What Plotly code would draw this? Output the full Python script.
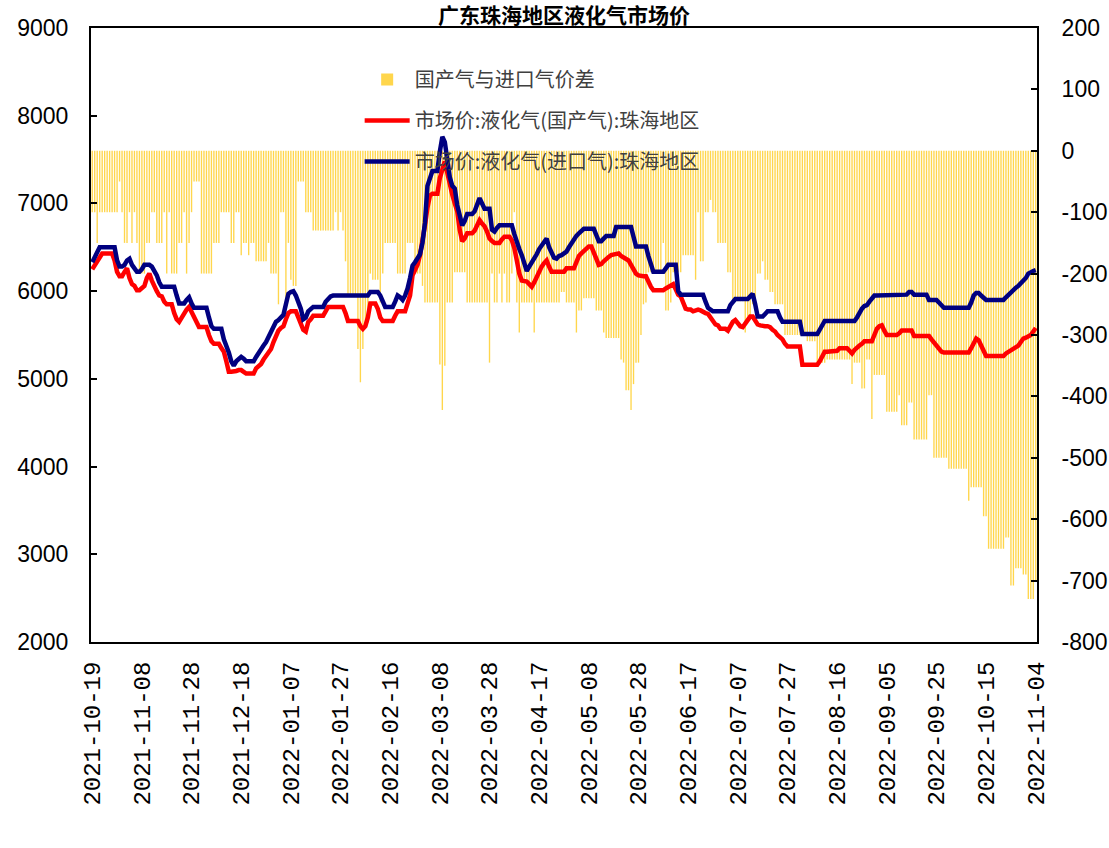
import pandas as pd
import plotly.graph_objects as go

# ---------------- categories ----------------
dates = [d.strftime('%Y-%m-%d') for d in pd.date_range('2021-10-19', '2022-11-04')
         if d.strftime('%Y-%m-%d') != '2022-05-01']
tick_labels = dates[::20]
left_ticks = [2000, 3000, 4000, 5000, 6000, 7000, 8000, 9000]
right_ticks = [-800, -700, -600, -500, -400, -300, -200, -100, 0, 100, 200]
right_tick_text = ['-800', '-700', '-600', '-500', '-400', '-300', '-200', '-100', '0', '100', '200']

# ---------------- series ----------------
price_imported = [
    6330, 6390, 6450, 6500, 6500, 6500, 6500, 6500, 6500, 6500,
    6350, 6280, 6280, 6300, 6350, 6370, 6300, 6250, 6220, 6220,
    6250, 6300, 6300, 6300, 6280, 6230, 6180, 6100, 6050, 6050,
    6050, 6050, 6050, 6050, 5950, 5860, 5860, 5860, 5900, 5930,
    5860, 5810, 5810, 5810, 5810, 5810, 5810, 5700, 5600, 5570,
    5570, 5570, 5570, 5450, 5380, 5300, 5200, 5150, 5200, 5230,
    5250, 5230, 5200, 5200, 5200, 5200, 5250, 5300, 5340, 5380,
    5420, 5480, 5540, 5590, 5650, 5670, 5700, 5730, 5850, 5970,
    5990, 6000, 5950, 5880, 5800, 5680, 5700, 5770, 5790, 5820,
    5820, 5820, 5820, 5820, 5880, 5910, 5940, 5950, 5950, 5950,
    5950, 5950, 5950, 5950, 5950, 5950, 5950, 5950, 5950, 5950,
    5950, 5950, 5990, 5990, 5990, 5990, 5950, 5870, 5820, 5820,
    5820, 5820, 5880, 5950, 5930, 5900, 5950, 6030, 6150, 6290,
    6330, 6380, 6420, 6550, 6780, 7200, 7300, 7370, 7370, 7370,
    7590, 7760, 7700, 7500, 7300, 7200, 7170, 6980, 6850, 6750,
    6800, 6880, 6880, 6880, 6910, 6980, 7060, 7000, 6940, 6940,
    6940, 6700, 6680, 6720, 6750, 6750, 6750, 6750, 6750, 6750,
    6650, 6540, 6480, 6410, 6320, 6230, 6280, 6320, 6370, 6420,
    6480, 6520, 6560, 6600, 6500, 6430, 6380, 6370, 6400, 6410,
    6430, 6450, 6500, 6550, 6600, 6630, 6660, 6690, 6710, 6710,
    6710, 6710, 6710, 6640, 6570, 6570, 6610, 6630, 6630, 6630,
    6630, 6730, 6730, 6730, 6730, 6730, 6730, 6730, 6620, 6510,
    6510, 6510, 6510, 6510, 6400, 6300, 6220, 6220, 6220, 6220,
    6220, 6260, 6300, 6300, 6300, 6300, 6000, 5960, 5960, 5960,
    5960, 5960, 5960, 5960, 5960, 5960, 5960, 5880, 5810, 5790,
    5770, 5770, 5770, 5770, 5770, 5770, 5770, 5840, 5880, 5910,
    5910, 5910, 5910, 5910, 5910, 5940, 5970, 5850, 5710, 5710,
    5710, 5740, 5770, 5770, 5770, 5770, 5770, 5700, 5650, 5650,
    5650, 5650, 5650, 5650, 5650, 5650, 5510, 5510, 5510, 5510,
    5510, 5510, 5510, 5560, 5620, 5660, 5660, 5660, 5660, 5660,
    5660, 5660, 5660, 5660, 5660, 5660, 5660, 5660, 5700, 5760,
    5800, 5830, 5840, 5880, 5920, 5950, 5950, 5950, 5950, 5950,
    5950, 5950, 5950, 5950, 5950, 5950, 5950, 5950, 5960, 5990,
    5990, 5960, 5960, 5960, 5960, 5960, 5960, 5900, 5900, 5900,
    5900, 5870, 5840, 5810, 5810, 5810, 5810, 5810, 5810, 5810,
    5810, 5810, 5810, 5810, 5870, 5950, 5980, 5980, 5950, 5920,
    5900, 5900, 5900, 5900, 5900, 5900, 5900, 5900, 5930, 5960,
    5990, 6010, 6040, 6060, 6090, 6120, 6150, 6200, 6220, 6230,
    6240,
]

price_domestic = [
    6250, 6300, 6340, 6400, 6430, 6430, 6430, 6430, 6430, 6350,
    6220, 6170, 6170, 6220, 6260, 6150, 6080, 6060, 6010, 6010,
    6030, 6060, 6150, 6200, 6120, 6050, 6000, 5950, 5940, 5880,
    5850, 5850, 5850, 5750, 5680, 5650, 5700, 5740, 5790, 5820,
    5760, 5720, 5650, 5590, 5590, 5590, 5590, 5500, 5430, 5400,
    5400, 5400, 5350, 5310, 5200, 5080, 5080, 5080, 5090, 5100,
    5100, 5080, 5060, 5060, 5060, 5060, 5120, 5150, 5170, 5220,
    5260, 5300, 5340, 5420, 5500, 5550, 5580, 5600, 5680, 5750,
    5770, 5770, 5770, 5700, 5610, 5560, 5540, 5650, 5680, 5720,
    5720, 5720, 5720, 5720, 5770, 5820, 5820, 5820, 5820, 5820,
    5820, 5820, 5750, 5660, 5660, 5660, 5660, 5660, 5600, 5570,
    5600, 5700, 5860, 5860, 5860, 5800, 5700, 5660, 5660, 5660,
    5660, 5660, 5720, 5770, 5770, 5770, 5770, 5860, 5950, 6180,
    6240, 6300, 6410, 6550, 6750, 6950, 7090, 7110, 7110, 7110,
    7290, 7380, 7480, 7350, 7210, 7100, 7000, 6910, 6700, 6570,
    6600, 6660, 6660, 6660, 6690, 6750, 6810, 6770, 6740, 6680,
    6600, 6570, 6550, 6550, 6550, 6590, 6620, 6620, 6620, 6580,
    6490, 6350, 6200, 6120, 6110, 6110, 6080, 6050, 6100, 6170,
    6230, 6280, 6320, 6350, 6280, 6220, 6220, 6220, 6220, 6220,
    6220, 6260, 6260, 6260, 6260, 6330, 6400, 6430, 6460, 6490,
    6510, 6510, 6450, 6370, 6300, 6310, 6340, 6370, 6390, 6410,
    6420, 6430, 6430, 6400, 6380, 6360, 6350, 6300, 6250, 6200,
    6180, 6170, 6170, 6170, 6100, 6050, 6010, 6010, 6010, 6010,
    6010, 6030, 6050, 6070, 6080, 6020, 5960, 5940, 5870, 5800,
    5790, 5790, 5770, 5780, 5790, 5780, 5760, 5750, 5740, 5700,
    5650, 5620, 5610, 5570, 5570, 5570, 5550, 5600, 5650, 5670,
    5630, 5600, 5590, 5630, 5680, 5710, 5710, 5660, 5620, 5610,
    5600, 5600, 5600, 5590, 5560, 5540, 5500, 5470, 5450, 5400,
    5370, 5370, 5370, 5370, 5370, 5370, 5160, 5160, 5160, 5160,
    5160, 5160, 5160, 5200, 5260, 5310, 5310, 5310, 5310, 5310,
    5320, 5350, 5350, 5350, 5350, 5320, 5290, 5330, 5360, 5380,
    5400, 5430, 5430, 5430, 5430, 5500, 5570, 5600, 5610, 5550,
    5500, 5500, 5500, 5500, 5500, 5520, 5550, 5550, 5550, 5550,
    5550, 5490, 5490, 5490, 5490, 5490, 5490, 5490, 5450, 5410,
    5380, 5340, 5310, 5300, 5300, 5300, 5300, 5300, 5300, 5300,
    5300, 5300, 5300, 5300, 5350, 5420, 5460, 5440, 5370, 5300,
    5260, 5260, 5260, 5260, 5260, 5260, 5260, 5260, 5290, 5310,
    5330, 5350, 5370, 5380, 5420, 5460, 5470, 5480, 5500, 5540,
    5580,
]

price_spread = [
    -100, -100, -150, -100, -100, -100, -100, -100, -100, -100,
    -100, -50, -100, -150, -150, -100, -150, -100, -150, -200,
    -200, -200, -150, -150, -100, -100, -150, -150, -150, -100,
    -200, -100, -200, -200, -200, -150, -150, -100, -200, -150,
    -100, -50, -50, -50, -200, -200, -200, -200, -200, -150,
    -150, -150, -100, -100, -100, -100, -150, -150, -100, -100,
    -170, -150, -150, -170, -150, -150, -180, -180, -180, -180,
    -180, -150, -200, -200, -200, -250, -100, -100, -240, -150,
    -210, -220, -220, -50, -50, -50, -100, -100, -100, -130,
    -130, -130, -130, -130, -130, -130, -130, -130, -100, -130,
    -100, -130, -180, -237, -237, -237, -237, -323, -377, -323,
    -290, -280, -200, -210, -210, -210, -247, -200, -150, -150,
    -150, -150, -150, -200, -200, -200, -200, -150, -150, -150,
    -200, -200, -200, -220, -247, -247, -247, -247, -247, -247,
    -348, -422, -350, -247, -247, -247, -198, -198, -198, -198,
    -198, -247, -247, -247, -247, -247, -247, -247, -247, -247,
    -345, -200, -247, -247, -200, -247, -200, -247, -247, -200,
    -100, -247, -296, -247, -247, -247, -247, -247, -296, -247,
    -247, -247, -247, -247, -247, -247, -247, -247, -247, -230,
    -230, -247, -247, -247, -247, -296, -260, -260, -240, -240,
    -240, -240, -240, -260, -260, -260, -296, -305, -305, -305,
    -305, -305, -305, -340, -345, -390, -390, -422, -380, -345,
    -345, -300, -250, -247, -198, -198, -198, -198, -198, -198,
    -150, -260, -260, -247, -198, -198, -198, -198, -170, -170,
    -170, -170, -170, -210, -100, -180, -180, -100, -100, -80,
    -100, -100, -150, -150, -150, -150, -198, -198, -245, -245,
    -245, -245, -245, -296, -270, -270, -250, -250, -200, -200,
    -180, -210, -210, -230, -230, -250, -250, -250, -250, -300,
    -300, -300, -300, -300, -300, -300, -300, -300, -310, -310,
    -310, -310, -345, -345, -345, -345, -340, -340, -340, -340,
    -340, -340, -340, -340, -340, -340, -380, -345, -345, -345,
    -387, -387, -340, -340, -437, -365, -365, -365, -365, -365,
    -425, -425, -425, -425, -425, -398, -447, -447, -447, -410,
    -410, -470, -470, -470, -470, -470, -470, -398, -398, -500,
    -500, -500, -500, -500, -500, -518, -518, -518, -518, -518,
    -518, -518, -518, -570, -548, -548, -548, -548, -548, -595,
    -595, -648, -648, -648, -648, -648, -648, -648, -630, -630,
    -708, -708, -680, -680, -680, -690, -690, -730, -730, -730,
    -700,
]

assert len(dates) == len(price_imported) == len(price_domestic) == len(price_spread), (
    len(dates), len(price_imported), len(price_domestic), len(price_spread))

fig = go.Figure()
fig.add_trace(go.Bar(
    x=dates, y=price_spread, name='国产气与进口气价差',
    marker=dict(color='rgba(255,196,0,0.7)', line=dict(width=0)),
    yaxis='y', legendgroup='g1'))
fig.add_trace(go.Scatter(
    x=dates, y=price_domestic, name='市场价:液化气(国产气):珠海地区',
    mode='lines', line=dict(color='#FF0000', width=4.5),
    yaxis='y2', legendgroup='g2'))
fig.add_trace(go.Scatter(
    x=dates, y=price_imported, name='市场价:液化气(进口气):珠海地区',
    mode='lines', line=dict(color='#000080', width=4.5),
    yaxis='y2', legendgroup='g3'))

axis_font = dict(family='Liberation Sans, Arial, sans-serif', size=23, color='black')

fig.update_layout(
    width=1109, height=848,
    margin=dict(l=91, r=72, t=28, b=206),
    paper_bgcolor='white', plot_bgcolor='white',
    bargap=0.45,
    showlegend=True,
    title=dict(text='<b>广东珠海地区液化气市场价</b>', x=0.5, xanchor='center',
               xref='paper', yref='container', y=0.9815, yanchor='middle',
               font=dict(family='Noto Sans CJK SC', size=21, color='black')),
    xaxis=dict(type='category', tickmode='array', tickvals=tick_labels, ticktext=tick_labels,
               tickangle=-90, tickfont=dict(family='Liberation Mono, monospace', size=24, color='black'),
               showline=True, linecolor='black', linewidth=2, mirror=True,
               ticks='', showgrid=False, range=[-0.5, len(dates) - 0.5],
               ticklabelstandoff=8, automargin=False),
    yaxis=dict(side='right', range=[-800, 200], tickmode='array',
               tickvals=right_ticks, ticktext=right_tick_text,
               ticks='inside', ticklen=6, tickwidth=1.5, tickcolor='black',
               showline=True, linecolor='black', linewidth=2,
               showgrid=False, zeroline=False, tickfont=axis_font,
               ticklabelstandoff=18, automargin=False),
    yaxis2=dict(side='left', overlaying='y', range=[2000, 9000], tickmode='array',
                tickvals=left_ticks, ticktext=[str(v) for v in left_ticks],
                ticks='inside', ticklen=6, tickwidth=1.5, tickcolor='black',
                showline=True, linecolor='black', linewidth=2,
                showgrid=False, zeroline=False, tickfont=axis_font,
                ticklabelstandoff=16, automargin=False),
    legend=dict(x=0.284, y=0.948, xanchor='left', yanchor='top',
                bgcolor='rgba(0,0,0,0)', borderwidth=0,
                font=dict(family='Noto Sans CJK SC', size=20, color='#404040'),
                tracegroupgap=12, itemwidth=45, traceorder='grouped'),
)

fig.write_html("out.html", config={'displayModeBar': False},
               post_script="document.body.style.margin='0';")
